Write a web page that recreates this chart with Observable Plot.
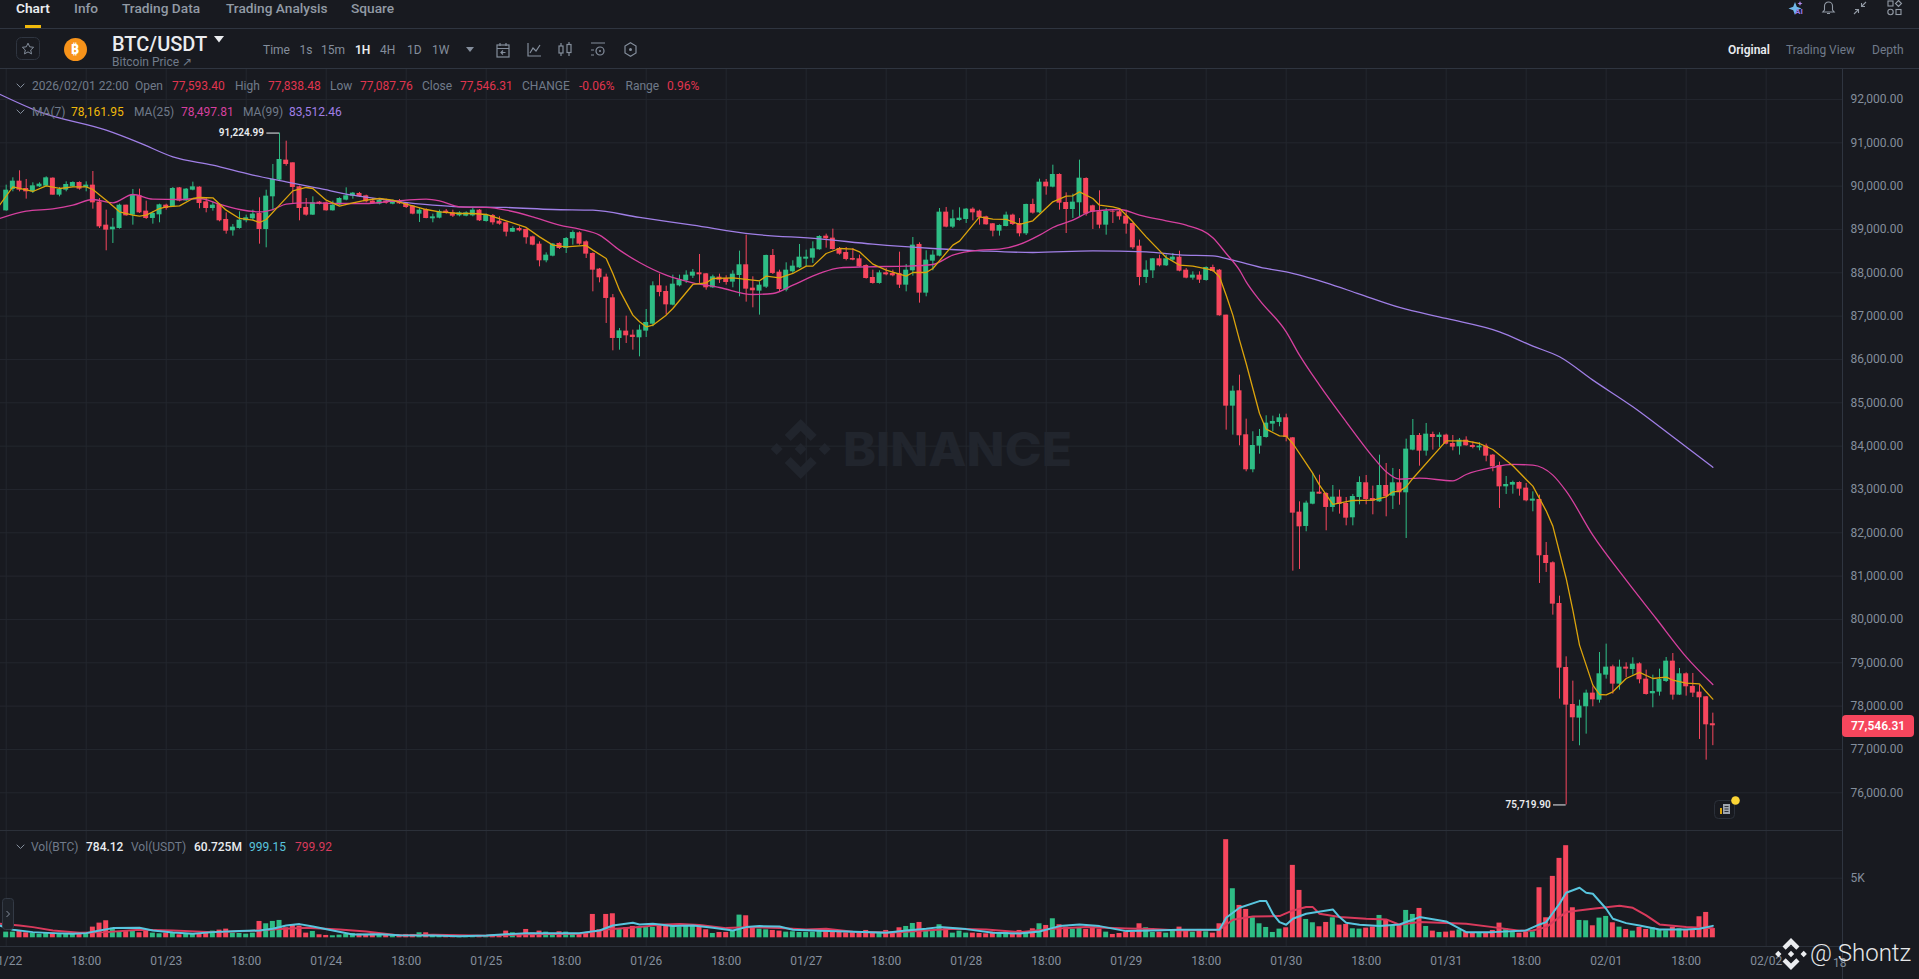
<!DOCTYPE html>
<html lang="en">
<head>
<meta charset="utf-8">
<title>BTC/USDT</title>
<script src="https://cdn.jsdelivr.net/npm/d3@7"></script>
<script src="https://cdn.jsdelivr.net/npm/@observablehq/plot@0.6"></script>
<style>
  html,body{margin:0;padding:0;background:#181a20;overflow:hidden}
  #page{position:relative;width:1919px;height:979px;overflow:hidden;background:#181a20;font-family:Roboto,"Noto Sans",sans-serif}
  .t{position:absolute;white-space:nowrap;line-height:16px;transform:translateY(-50%)}
  .l{position:absolute;background:#2f3540}
  .plot{position:absolute;left:0}
  svg.ic{position:absolute;overflow:visible}
</style>
</head>
<body>
<div id="page">
  <div class="plot" id="price" style="top:68px"></div>
  <div class="plot" id="volume" style="top:830px"></div>
</div>
<script>
// ---------- candle data (1H) ----------
const opens = [
89430,89923,90115,89946,89869,89984,90000,90184,89792,89907,
89984,90084,89969,90023,89631,89100,88992,89023,89561,89331,
89777,89423,89254,89338,89561,89523,89961,89661,89907,89977,
89638,89484,89577,89231,88969,89023,89200,89246,89369,89000,
89754,90138,90600,90538,89984,89508,89331,89631,89615,89431,
89561,89677,89769,89831,89777,89654,89584,89654,89584,89654,
89600,89538,89354,89461,89246,89261,89423,89384,89315,89307,
89315,89446,89184,89323,89192,89154,88938,89023,89000,88830,
88661,88277,88384,88677,88561,88785,88923,88715,88446,88085,
87900,87423,86485,86654,86561,86500,86654,86815,87700,87569,
87254,87700,87815,87923,88000,87977,87654,87900,87869,87785,
87938,88185,87646,87577,87669,88400,88015,87600,88023,88115,
88315,88338,88531,88846,88800,88561,88469,88331,88323,88169,
87892,87754,88000,87985,87985,87715,88046,88654,87531,88269,
88385,89400,89054,89207,89231,89469,89423,89292,89131,88961,
89069,89331,89138,88900,89577,89384,90092,89977,90269,89623,
89461,89615,90177,89546,89408,89100,89415,89408,89307,89138,
88615,87892,88046,88323,88161,88292,88361,88061,87877,87946,
87823,88123,88061,87023,84923,85277,84262,83454,84000,84200,
84508,84546,84654,84192,82477,82146,82661,82938,82908,82585,
82823,82677,82346,82815,83154,82792,82715,83092,82846,83154,
82923,83908,84246,83885,84269,84200,84254,84061,83985,84138,
84015,83961,84000,83792,83554,83061,83100,83161,83031,82731,
82769,81477,81308,80369,78892,78038,77723,77985,78300,78138,
78715,78908,78508,78900,78846,78977,78623,78285,78323,78569,
79038,78254,78746,78454,78323,78215,77593.40];
const closes = [
89907,90115,89907,89869,90007,90046,90192,89792,89923,90038,
90084,89931,90023,89615,89061,88984,89054,89561,89315,89792,
89384,89254,89369,89569,89484,89946,89654,89931,89984,89600,
89484,89561,89200,88961,89054,89215,89269,89354,89000,89769,
90154,90615,90500,89969,89484,89331,89615,89584,89431,89561,
89715,89777,89838,89754,89638,89600,89669,89607,89646,89592,
89507,89354,89446,89254,89292,89415,89369,89307,89384,89384,
89446,89200,89331,89154,89123,88938,89023,88969,88808,88638,
88277,88408,88661,88561,88792,88930,88661,88431,88061,87885,
87408,86485,86661,86546,86508,86677,86854,87700,87546,87261,
87738,87838,87946,88015,87954,87654,87908,87831,87777,87969,
88185,87623,87585,87715,88400,87985,87615,88061,88154,88361,
88361,88554,88838,88785,88538,88431,88308,88292,88138,87869,
87754,88000,87954,87931,87715,88061,88638,87531,88292,88408,
89400,89054,89246,89261,89469,89384,89269,89108,88961,89092,
89331,89115,88900,89577,89377,90092,89984,90269,89607,89461,
89631,90184,89354,89400,89100,89415,89400,89292,89123,88577,
87892,88061,88323,88161,88323,88361,88038,87877,87946,87831,
88123,88031,87008,84923,85269,84239,83454,84015,84223,84531,
84569,84654,84200,82454,82138,82685,82938,82892,82585,82823,
82654,82338,82838,83161,82769,82731,83092,82831,83154,82923,
83931,84246,83885,84277,84200,84254,84046,83977,84138,84008,
83969,84000,83769,83523,83061,83115,83161,83007,82738,82777,
81469,81292,80354,78877,78023,77731,78000,78300,78146,78746,
78900,78508,78900,78854,78969,78608,78269,78338,78615,79038,
78254,78746,78446,78300,78192,77569,77546.31];
const highs = [
90023,90192,90354,90154,90077,90077,90215,90192,89969,90100,
90100,90100,90100,90338,89715,89446,89254,89584,89561,89923,
89931,89654,89408,89584,89584,89969,89969,89946,90092,89984,
89715,89638,89584,89384,89115,89408,89331,89446,89731,89907,
90500,91224.99,91038,90538,90000,89715,89754,89646,89638,89654,
89731,89961,89854,89854,89792,89715,89715,89700,89677,89692,
89615,89554,89484,89477,89354,89446,89461,89446,89408,89408,
89484,89461,89354,89346,89292,89169,89061,89061,89015,88846,
88715,88461,88677,88692,88815,88969,88946,88738,88461,88100,
87969,87500,86715,87000,86677,86792,87154,87792,87969,87692,
87946,87946,88046,88077,88423,87985,87946,87969,87931,88046,
88500,88869,87908,87792,88408,88538,88061,88231,88277,88654,
88523,88715,88854,88892,89008,88584,88584,88561,88408,88184,
88061,88046,88100,88061,88477,88192,88815,88692,88508,88508,
89484,89508,89446,89500,89484,89500,89446,89307,89138,89108,
89400,89354,89254,89584,89700,90161,90154,90484,90284,89846,
89815,90600,90192,89561,89892,89484,89446,89461,89446,89154,
88754,88277,88331,88408,88408,88446,88500,88100,88023,88023,
88138,88177,88077,87023,85385,85638,84623,84331,84385,84700,
84692,84738,84738,84200,82715,82731,83369,83331,82923,83092,
82985,82815,82885,83292,83323,83077,83792,83600,83485,83461,
84161,84615,84292,84523,84323,84308,84277,84246,84177,84215,
84100,84077,84046,83807,83631,83300,83192,83177,83138,82946,
82869,81777,81331,80538,79138,78577,78138,78369,78446,79238,
79431,78946,79061,79000,79115,79000,78831,78715,78854,79123,
79215,78869,78769,78754,78485,78223,77838.48];
const lows = [
89420,89869,89869,89700,89830,89969,89984,89792,89754,89869,
89969,89907,89869,89469,89023,88508,88677,89008,89307,89100,
89369,89231,89123,89154,89446,89508,89638,89646,89892,89477,
89384,89423,89177,88892,88846,89008,89154,89200,88661,88577,
89446,90123,90461,89600,89200,89307,89323,89569,89423,89423,
89546,89661,89700,89738,89615,89584,89569,89584,89569,89577,
89484,89338,89161,89246,89154,89246,89354,89277,89292,89292,
89292,89184,89169,89100,89100,88830,88931,88946,88661,88623,
88138,88231,88369,88538,88446,88638,88638,88331,87561,87769,
86831,86200,86215,86369,86215,86061,86508,86754,87446,87023,
87238,87677,87754,87869,87754,87600,87638,87754,87715,87654,
87446,87323,87192,87023,87638,87961,87546,87561,87985,88100,
88138,88215,88523,88569,88523,88408,88277,88277,88123,87854,
87738,87738,87931,87908,87638,87561,87923,87300,87446,88046,
88369,89038,89023,89192,89138,89200,89100,89100,88830,88846,
89061,89092,88830,88861,89354,89369,89792,89961,89446,88907,
89254,89292,89307,89000,89015,88869,89138,89215,88892,88538,
87700,87754,87869,88138,88146,88254,88023,87861,87830,87754,
87807,88015,87000,84369,84254,84007,83408,83385,83815,84185,
84331,84446,84100,81115,81154,82023,82646,82892,82046,82477,
82431,82161,82161,82646,82646,82415,82707,82369,82538,82638,
81869,83892,83538,83769,83908,83969,84031,83892,83792,84000,
83938,83892,83638,83408,82561,82885,82892,82846,82715,82485,
80831,81085,80100,78162,75719.90,77185,77085,77354,77985,78069,
78623,78277,78369,78654,78715,78515,78254,77962,78231,78546,
78138,78246,78231,78200,77231,76754,77087.76];
const volumes = [
476,476,532,420,392,308,364,392,336,308,
308,336,336,896,1232,1428,812,532,532,532,
420,532,392,336,392,392,252,336,308,336,
504,560,644,728,392,364,308,392,1372,1176,
1372,1456,840,1092,980,392,532,252,196,168,
224,280,364,308,252,336,280,196,168,252,
280,280,420,420,252,196,196,196,140,168,
168,196,168,224,224,560,420,336,700,392,
560,476,364,504,476,280,336,420,1960,672,
1960,2016,700,840,952,896,896,868,1036,1120,
1092,896,952,952,868,672,364,448,448,532,
1904,1848,896,728,672,616,560,476,504,448,
448,476,532,616,476,448,420,448,476,616,
392,392,616,504,840,952,1204,1288,532,560,
1092,756,392,560,392,392,364,336,476,364,
476,392,616,448,756,1176,1036,1596,1092,896,
728,840,700,896,728,476,280,364,476,476,
1176,840,448,476,392,532,896,672,476,700,
504,392,1176,8232,4116,2716,2380,1680,1176,868,
448,728,840,6076,3976,1540,1260,924,1288,1680,
1064,1120,756,728,812,896,1876,1456,1036,1036,
2296,1960,2464,952,560,448,476,560,672,476,
392,392,448,616,1232,756,504,392,476,504,
4200,1680,5152,6664,7728,2520,1456,1428,1008,1652,
1792,1260,896,700,560,868,700,840,672,588,
896,756,672,616,1764,2128,784.12];

// ---------- moving averages at the knots of each line ----------
const ma7Idx = [-1,1,4,6,8,10,12,13,15,17,19,20,21,23,24,26,28,29,31,33,35,37,38,39,41,43,45,46,48,50,52,54,56,58,60,63,65,68,70,72,75,78,80,82,84,87,88,90,91,92,94,95,96,97,99,100,103,105,106,109,112,113,114,116,118,120,121,123,125,127,128,130,132,135,136,138,139,142,143,146,148,150,152,154,157,159,160,161,163,164,166,167,169,171,174,176,178,181,182,183,184,185,186,187,188,189,190,191,192,193,195,196,197,199,202,205,207,208,209,210,211,216,219,221,223,226,228,229,231,232,234,235,236,238,239,240,241,243,245,247,249,250,252,254,255,256];
const ma7Val = [89561,89984,89877,90007,89946,89984,89984,89923,89677,89408,89331,89307,89331,89484,89523,89546,89715,89738,89731,89446,89254,89215,89161,89231,89561,89892,89969,89946,89677,89538,89615,89677,89715,89677,89584,89461,89408,89369,89369,89346,89200,89046,88830,88638,88600,88631,88523,88331,87985,87600,87023,86869,86754,86792,87023,87177,87731,87769,87869,87885,87831,87815,87923,87885,87985,88154,88154,88446,88561,88546,88485,88200,88061,87923,88007,88007,88100,88638,88731,89292,89238,89231,89115,89200,89638,89769,89777,89869,89715,89561,89523,89484,89177,88830,88354,88177,88154,88061,87908,87484,87023,86446,85908,85331,84754,84392,84315,84238,84231,84061,83600,83369,83100,82654,82746,82754,82831,82946,82961,83061,83254,84123,84123,84061,83923,83546,83231,83077,82507,82154,80946,80215,79408,78485,78269,78262,78331,78638,78777,78638,78669,78600,78531,78515,78331,78161.95];
const ma25Idx = [-1,3,7,10,13,16,19,22,26,29,32,35,38,40,42,45,50,54,57,60,63,65,68,72,75,79,83,86,89,92,95,99,103,107,112,115,118,122,125,129,135,139,142,146,149,152,155,157,160,163,167,170,174,177,181,183,185,186,188,192,194,197,201,205,207,209,212,217,219,223,226,229,232,234,238,243,247.5,252,256];
const ma25Val = [89254,89423,89477,89561,89692,89615,89807,89700,89692,89715,89584,89461,89408,89461,89584,89615,89600,89600,89638,89677,89700,89661,89523,89508,89446,89292,89100,89008,88869,88523,88238,87946,87769,87661,87500,87523,87715,87985,88115,88138,88154,88192,88408,88523,88546,88654,88869,89046,89215,89423,89461,89331,89200,89100,88808,88446,88061,87792,87369,86638,86100,85408,84561,83754,83408,83238,83261,83200,83346,83508,83577,83561,83331,82961,81946,80908,80023,79138,78497.81];
const ma99Idx = [-1,5,15,20,25,31,37,42,47,52,58,64,68,75,82,88,95,103,112,122,130,139,146,154,163,171,176,181,184,189,192,198,203,209,216,224,229,233,238,244,250,256];
const ma99Val = [92123,91715,91292,91000,90677,90484,90254,90100,89946,89792,89661,89561,89523,89508,89461,89446,89277,89100,88892,88785,88661,88561,88507,88469,88507,88485,88415,88392,88292,88100,88023,87769,87508,87200,86946,86638,86308,86062,85523,84908,84215,83512.46];
const volMa5Idx = [-1,1,4,7,10,12,14,16,20,22,25,28,31,35,38,40,42,44,46,49,52,56,59,64,68,72,78,84,86,89,91,94,95,97,100,103,106,109,111,113,116,118,122,126,132,135,138,140,144,148,152,155,158,161,164,168,172,176,182,183,185,188,189,190,191,192,193,195,199,200,201,203,206,209,212,216,219,223,228,230,231,233,234,236,237,238,240,241,243,245,248,252,254,256];
const volMa5Val = [1036,672,476,392,336,392,616,812,840,616,448,336,476,560,616,756,1036,1148,952,616,280,308,224,196,140,196,392,392,392,616,1036,1260,1120,1176,980,1036,840,616,896,980,952,672,588,532,420,616,756,896,728,420,364,532,980,1120,980,560,616,672,672,1680,2520,3080,3080,2016,1316,1092,1596,2016,2380,1736,1260,1092,980,1120,1736,1372,476,476,616,1120,1316,2856,3780,4200,3780,3696,2436,1596,1232,1036,700,700,756,999.15];
const volMa10Idx = [-1,2,4,7,11,15,20,25,31,36,41,45,50,54,59,64,72,78,86,90,95,98,101,104,108,112,116,120,123,127,133,138,142,147,152,157,162,168,172,176,182,184,187,191,193,195,196,197,200,204,207,209,212,219,223,227,229,231,234,238,242,244,246,248,252,256];
const volMa10Val = [1176,1036,896,616,420,476,672,616,476,560,728,840,700,532,196,252,168,308,336,700,896,1092,1148,1064,812,896,812,700,756,504,448,616,756,700,476,756,896,784,728,616,672,1512,1792,1820,2296,2576,2576,2016,1736,1596,1540,1092,1316,1176,896,588,616,896,2156,2436,2688,2520,1876,1120,896,799.92];

// ---------- axes ----------
const timeTickIdx = [0,12,24,36,48,60,72,84,96,108,120,132,144,156,168,180,192,204,216,228,240,252,264];
const timeTickLabels = ["01/22","18:00","01/23","18:00","01/24","18:00","01/25","18:00","01/26","18:00","01/27","18:00","01/28","18:00","01/29","18:00","01/30","18:00","01/31","18:00","02/01","18:00","02/02"];
const priceTicks = [76000,77000,78000,79000,80000,81000,82000,83000,84000,85000,86000,87000,88000,89000,90000,91000,92000];
const highLabel = {i:41, price:91224.99, text:"91,224.99"};
const lowLabel  = {i:234, price:75719.90, text:"75,719.90"};

// ---------- styles ----------
const UP="#2ebd85", DOWN="#f6465d", GRID="#23272e", AXIS="#848e9c";
const C_MA7="#dca40c", C_MA25="#d6409f", C_MA99="#a07fe6", C_V5="#58c5de", C_V10="#d93a5c";
const FONT='Roboto,"Noto Sans",sans-serif';

const rows = opens.map((o,i)=>({i,o,h:highs[i],l:lows[i],c:closes[i],v:volumes[i]}));
const up = rows.filter(d=>d.c>=d.o), down = rows.filter(d=>d.c<d.o);
const pairs = (xs,ys)=>xs.map((x,k)=>({i:x,v:ys[k]}));
const HW = 0.375;
const xDomain=[-0.855,275.45];

function candles(data,col){
  return [
    Plot.ruleX(data,{x:"i",y1:"l",y2:"h",stroke:col,strokeWidth:1}),
    Plot.rect(data,{x1:d=>d.i-HW,x2:d=>d.i+HW,y1:d=>Math.min(d.o,d.c),y2:d=>Math.max(d.o,d.c),fill:col})
  ];
}
const lineOpt=(stroke,w=1.2,curve="linear")=>({x:"i",y:"v",stroke,strokeWidth:w,clip:true,curve});

const pricePlot = Plot.plot({
  width:1919,height:762,marginLeft:0,marginRight:77,marginTop:0,marginBottom:0,
  style:{background:"transparent",fontFamily:FONT,fontSize:"12px"},
  x:{domain:xDomain,axis:null},
  y:{domain:[75130,92715],axis:null},
  marks:[
    Plot.gridX(timeTickIdx,{stroke:GRID,strokeOpacity:1}),
    Plot.gridY(priceTicks,{stroke:GRID,strokeOpacity:1}),
    Plot.axisY(priceTicks,{anchor:"right",tickSize:0,tickPadding:8,label:null,color:AXIS,tickFormat:d3.format(",.2f")}),
    ...candles(up,UP),...candles(down,DOWN),
    Plot.line(pairs(ma99Idx,ma99Val),lineOpt(C_MA99,1.3,"monotone-x")),
    Plot.line(pairs(ma25Idx,ma25Val),lineOpt(C_MA25,1.3,"monotone-x")),
    Plot.line(pairs(ma7Idx,ma7Val),lineOpt(C_MA7,1.3)),
    Plot.ruleY([highLabel],{y:"price",x1:d=>d.i-1.9,x2:"i",stroke:"#eaecef",strokeWidth:1}),
    Plot.ruleY([lowLabel],{y:"price",x1:d=>d.i-1.9,x2:"i",stroke:"#eaecef",strokeWidth:1}),
    Plot.text([highLabel,lowLabel],{x:"i",y:"price",text:"text",textAnchor:"end",dx:-15.5,fill:"#eaecef",fontSize:10,fontWeight:600})
  ]
});
document.getElementById("price").appendChild(pricePlot);

const volPlot = Plot.plot({
  width:1919,height:149,marginLeft:0,marginRight:77,marginTop:0,marginBottom:33,
  style:{background:"transparent",fontFamily:FONT,fontSize:"12px"},
  x:{domain:xDomain,axis:null},
  y:{domain:[-730,9002],axis:null},
  marks:[
    Plot.gridX(timeTickIdx,{stroke:GRID,strokeOpacity:1}),
    Plot.gridY([5000],{stroke:GRID,strokeOpacity:1}),
    Plot.axisY([5000],{anchor:"right",tickSize:0,tickPadding:8,label:null,color:AXIS,tickFormat:()=>"5K"}),
    Plot.axisX(timeTickIdx,{anchor:"bottom",tickSize:0,tickPadding:10,label:null,color:AXIS,tickFormat:(d,k)=>timeTickLabels[timeTickIdx.indexOf(d)]}),
    Plot.rect(up,{x1:d=>d.i-HW,x2:d=>d.i+HW,y1:d=>0,y2:"v",fill:UP}),
    Plot.rect(down,{x1:d=>d.i-HW,x2:d=>d.i+HW,y1:d=>0,y2:"v",fill:DOWN}),
    Plot.line(pairs(volMa10Idx,volMa10Val),lineOpt(C_V10,2)),
    Plot.line(pairs(volMa5Idx,volMa5Val),lineOpt(C_V5,2))
  ]
});
document.getElementById("volume").appendChild(volPlot);

// ---------- page furniture ----------
const page=document.getElementById("page");
function txt(x,y,s,o={}){
  const d=document.createElement("div");d.className="t";d.textContent=s;
  d.style.left=x+"px";d.style.top=y+"px";
  d.style.fontSize=(o.size||12)+"px";d.style.color=o.color||AXIS;d.style.fontWeight=o.weight||400;
  if(o.opacity)d.style.opacity=o.opacity;
  page.appendChild(d);return d;
}
function line(x,y,w,h,c){const d=document.createElement("div");d.className="l";d.style.cssText=`left:${x}px;top:${y}px;width:${w}px;height:${h}px;${c?"background:"+c:""}`;page.appendChild(d);}
function svg(x,y,w,h,inner){
  const d=document.createElement("div");
  d.innerHTML=`<svg class="ic" style="left:${x}px;top:${y}px" width="${w}" height="${h}" viewBox="0 0 ${w} ${h}" fill="none">${inner}</svg>`;
  page.appendChild(d.firstChild);
}
// top navigation
[[16,"Chart","#eaecef",600],[74,"Info"],[122,"Trading Data"],[226,"Trading Analysis"],[351,"Square"]].forEach(([x,s,c,w])=>txt(x,8,s,{size:13.700,color:c||"#929aa5",weight:w||500}));
line(25,25,16,3,"#f0b90b");
line(0,28,1919,1,"#2f3540");
line(0,68,1919,1,"#2f3540");
line(1842,68,1,911,"#2f3540");
line(0,830,1842,1,"#2b3039");
line(0,946,1842,1,"#2b3039");
// symbol row
svg(16,37,24,23,`<rect x=".5" y=".5" width="23" height="22" rx="5" stroke="#2f3540"/><path d="M12 6.200l1.700 3.600 3.900.5-2.900 2.700.8 3.900-3.500-2-3.500 2 .8-3.900-2.900-2.700 3.900-.5z" stroke="#848e9c"/>`);
svg(64,38,23,23,`<circle cx="11.500" cy="11.500" r="11.500" fill="#f7931a"/>`);
txt(70.500,49,"₿",{size:15,color:"#fff",weight:700});
txt(112,44,"BTC/USDT",{size:20,color:"#eaecef",weight:500});
svg(214,36,11,7,`<path d="M0 0h10L5 6.500z" fill="#eaecef"/>`);
txt(112,62,"Bitcoin Price ↗",{size:12,color:"#707a8a"});
[[263,"Time"],[299.500,"1s"],[321,"15m"],[355,"1H","#eaecef",600],[380,"4H"],[407,"1D"],[432,"1W"]].forEach(([x,s,c,w])=>txt(x,50,s,{size:12,color:c||"#848e9c",weight:w||400}));
svg(466,47,8,5,`<path d="M0 0h8L4 5z" fill="#848e9c"/>`);
// toolbar icons
const st='stroke="#848e9c" stroke-width="1.2"';
svg(496,42,14,16,`<rect x="1" y="3" width="12" height="12" ${st}/><path d="M1 6.500h12M4 1v3M10 1v3M9.500 10.500H5m2-2l-2 2 2 2" ${st}/>`);
svg(527,42,15,16,`<path d="M1 1v13h13M3 11l3-5 3 3 4-6" ${st}/>`);
svg(558,42,14,15,`<rect x="1" y="4" width="4" height="7" ${st}/><rect x="9" y="2.500" width="4" height="8" ${st}/><path d="M3 1v3M3 11v3M11 0v2.500M11 10.500V14" ${st}/>`);
svg(591,42,15,15,`<path d="M0 1h14M0 8h3M0 13h3" ${st}/><circle cx="9" cy="9" r="4" ${st}/><circle cx="9" cy="9" r="1" fill="#848e9c"/>`);
svg(624,42,13,15,`<path d="M6.500.8l5.500 3.200v7l-5.500 3.200L1 11V4z" ${st}/><circle cx="6.500" cy="7.500" r="1.500" fill="#848e9c"/>`);
// view switch
txt(1728,50,"Original",{size:12,color:"#eaecef",weight:600});
txt(1786,50,"Trading View",{size:12,color:"#707a8a"});
txt(1872,50,"Depth",{size:12,color:"#707a8a"});
// top-right icons
svg(1788,1,16,15,`<path d="M7 1l1.800 4.700L13.500 7.500 8.800 9.300 7 14 5.200 9.300.5 7.500l4.700-1.800z" fill="#6fb7e8"/><path d="M12 0l.7 1.800 1.800.7-1.800.7L12 5l-.7-1.800-1.800-.7 1.800-.7z" fill="#b58cf0"/>`);
txt(1795,12,"AI",{size:8,color:"#9a7cf0",weight:700});
svg(1822,1,13,14,`<path d="M6.500 1a4 4 0 0 0-4 4v4L.8 11h11.400l-1.700-2V5a4 4 0 0 0-4-4zM5 12.500h3" stroke="#929aa5" stroke-width="1.100"/>`);
svg(1853,1,14,14,`<path d="M13 1L8.500 5.500M8.500 2v3.500H12M1 13l4.500-4.500M5.500 12V8.500H2" stroke="#929aa5" stroke-width="1.100"/>`);
svg(1887,0,15,16,`<rect x="1" y="1" width="5" height="5" stroke="#929aa5" stroke-width="1.100"/><path d="M11.500.5l3 3-3 3-3-3z" stroke="#929aa5" stroke-width="1.100"/><circle cx="3.500" cy="12" r="2.700" stroke="#929aa5" stroke-width="1.100"/><rect x="9" y="9.500" width="5" height="5" stroke="#929aa5" stroke-width="1.100"/>`);
// legend rows
const chev=(x,y)=>svg(x,y,9,6,`<path d="M.7.7L4.500 4.500 8.300.7" stroke="#848e9c" stroke-width="1"/>`);
chev(16,83);chev(16,109);chev(16,844);
const G="#707a8a",R="#e0354f";
[[32,"2026/02/01 22:00",G],[135,"Open",G],[172,"77,593.40",R],[235,"High",G],[268,"77,838.48",R],[330,"Low",G],[360,"77,087.76",R],[422,"Close",G],[460,"77,546.31",R],[522,"CHANGE",G],[579,"-0.06%",R],[625.500,"Range",G],[667,"0.96%",R]].forEach(([x,s,c])=>txt(x,86,s,{color:c}));
[[32,"MA(7)",G],[71,"78,161.95","#f0b90b"],[134,"MA(25)",G],[181,"78,497.81",C_MA25],[243,"MA(99)",G],[289,"83,512.46",C_MA99]].forEach(([x,s,c])=>txt(x,112,s,{color:c}));
[[31,"Vol(BTC)",G,400],[86,"784.12","#eaecef",500],[131,"Vol(USDT)",G,400],[194,"60.725M","#eaecef",500],[249,"999.15",C_V5,400],[295,"799.92",C_V10,400]].forEach(([x,s,c,w])=>txt(x,847,s,{color:c,weight:w}));
// last price tag
const tag=document.createElement("div");
tag.style.cssText=`position:absolute;left:1842px;top:715px;width:72px;height:22px;border-radius:4px;background:${DOWN};color:#fff;font-size:12px;font-weight:600;line-height:22px;text-align:center`;
tag.textContent="77,546.31";page.appendChild(tag);
// volume side handle
svg(2,898,12,32,`<rect x=".5" y=".5" width="11" height="31" rx="3" fill="#1e2229" stroke="#333a45"/><path d="M4.500 13l3 3-3 3" stroke="#848e9c"/>`);
// news button
svg(1714,800,21,19,`<rect x=".5" y=".5" width="20" height="18" rx="4" stroke="#2b3039"/><rect x="9" y="4" width="7" height="10" fill="#a0a6af"/><path d="M10.500 6.500h4M10.500 9h4M10.500 11.500h4" stroke="#30343b"/><rect x="6" y="8" width="2" height="6" fill="#d9a30b"/>`);
svg(1730.500,796,9,9,`<circle cx="4.500" cy="4.500" r="4.300" fill="#fcd535"/>`);
// BINANCE watermark
const logo=(cx,cy,k,fill)=>`<g transform="translate(${cx},${cy}) scale(${k})" fill="${fill}"><path d="M0-30L-16-14l6 6L0-18l10 10 6-6zM-30 0l6-6 6 6-6 6zM-6 0l6-6 6 6-6 6zM18 0l6-6 6 6-6 6zM0 30l-16-16 6-6L0 18l10-10 6 6z"/></g>`;
svg(768,418,310,62,logo(32.700,31,1,"#21252d")+`<text x="75" y="48" font-family="Inter,Roboto,sans-serif" font-weight="800" font-size="46" fill="#21252d" textLength="229" lengthAdjust="spacingAndGlyphs">BINANCE</text>`);
// author watermark
svg(1775,938,32,32,logo(16,16,0.53,"#eaecef"));
txt(1833,962.500,"18",{color:AXIS});
txt(1810,953,"@ Shontz",{size:24,color:"#e6e8ea",weight:300}).style.lineHeight="30px";
</script>
</body>
</html>
